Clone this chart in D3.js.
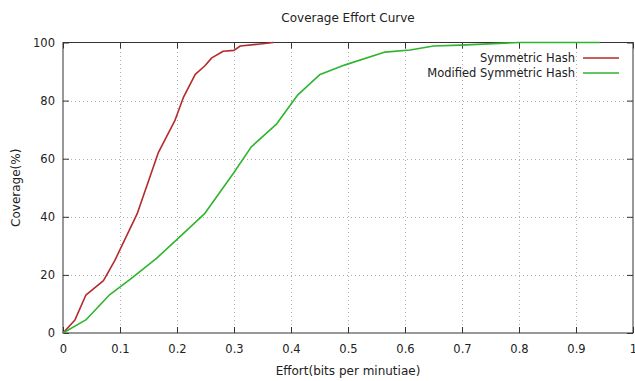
<!DOCTYPE html>
<html>
<head>
<meta charset="utf-8">
<script src="https://cdn.jsdelivr.net/npm/d3@7"></script>
<style>
  body { margin: 0; background: #fff; }
  text { font-family: "DejaVu Sans", sans-serif; font-size: 11.5px; fill: #222; }
</style>
</head>
<body>
<script>
// data
var seriesNames = ["Symmetric Hash", "Modified Symmetric Hash"];
var symEffort = [0, 0.021, 0.040, 0.071, 0.091, 0.130, 0.167, 0.196, 0.211, 0.232, 0.249, 0.261, 0.281, 0.300, 0.311, 0.346, 0.369];
var symCoverage = [0, 4.5, 13, 18, 25, 41, 62, 73, 81, 89, 92, 94.7, 97, 97.3, 98.8, 99.5, 100];
var modEffort = [0, 0.040, 0.081, 0.120, 0.164, 0.202, 0.249, 0.299, 0.330, 0.375, 0.412, 0.451, 0.495, 0.565, 0.609, 0.650, 0.697, 0.800, 0.942];
var modCoverage = [0, 4.5, 13, 18.8, 25.7, 32.6, 41.2, 55, 64, 72, 82, 89, 92.3, 96.7, 97.4, 98.8, 99.1, 100, 100];
var xTicks = [0, 0.1, 0.2, 0.3, 0.4, 0.5, 0.6, 0.7, 0.8, 0.9, 1];
var yTicks = [0, 20, 40, 60, 80, 100];
var colors = ["#b52a2a", "#2eb52e"];

var W = 635, H = 381;
var margin = { top: 42.5, right: 2, bottom: 48, left: 63 };

var svg = d3.select("body").append("svg")
    .attr("width", W)
    .attr("height", H);

var x = d3.scaleLinear().domain([0, 1]).range([margin.left, W - margin.right]);
var y = d3.scaleLinear().domain([0, 100]).range([H - margin.bottom, margin.top]);

// grid
svg.append("g").selectAll("line.gx")
    .data(xTicks.slice(1, -1))
    .enter().append("line")
    .attr("x1", function (d) { return Math.round(x(d)) + 0.5; })
    .attr("x2", function (d) { return Math.round(x(d)) + 0.5; })
    .attr("y1", y(0)).attr("y2", y(100))
    .attr("stroke", "#b0b0b0").attr("stroke-dasharray", "1,3");
svg.append("g").selectAll("line.gy")
    .data(yTicks.slice(1, -1))
    .enter().append("line")
    .attr("y1", function (d) { return Math.round(y(d)) + 0.5; })
    .attr("y2", function (d) { return Math.round(y(d)) + 0.5; })
    .attr("x1", x(0)).attr("x2", x(1))
    .attr("stroke", "#b0b0b0").attr("stroke-dasharray", "1,3");

// axes with inward ticks, mirrored
var tk = 6;
svg.append("g").attr("transform", "translate(0," + y(0) + ")")
    .call(d3.axisBottom(x).tickValues(xTicks).tickSizeInner(-tk).tickSizeOuter(0).tickPadding(12)
        .tickFormat(function (d) { return d === 0 ? "0" : d === 1 ? "1" : d3.format(".1f")(d); }));
svg.append("g").attr("transform", "translate(0," + y(100) + ")")
    .call(d3.axisTop(x).tickValues(xTicks).tickSizeInner(-tk).tickSizeOuter(0).tickFormat(""));
svg.append("g").attr("transform", "translate(" + x(0) + ",0)")
    .call(d3.axisLeft(y).tickValues(yTicks).tickSizeInner(-tk).tickSizeOuter(0).tickPadding(8));
svg.append("g").attr("transform", "translate(" + x(1) + ",0)")
    .call(d3.axisRight(y).tickValues(yTicks).tickSizeInner(-tk).tickSizeOuter(0).tickFormat(""));

svg.selectAll(".domain").remove();
svg.selectAll(".tick line").attr("stroke", "#333");
svg.selectAll(".tick text").style("font-size", "11.5px").attr("fill", "#222");

// frame
svg.append("rect")
    .attr("x", x(0)).attr("y", y(100))
    .attr("width", x(1) - x(0)).attr("height", y(0) - y(100))
    .attr("fill", "none").attr("stroke", "#333").attr("stroke-width", 1);

// curves
var line = d3.line()
    .x(function (d) { return x(d[0]); })
    .y(function (d) { return y(d[1]); });

var series = [
    d3.zip(symEffort, symCoverage),
    d3.zip(modEffort, modCoverage)
];

svg.selectAll("path.curve")
    .data(series)
    .enter().append("path")
    .attr("class", "curve")
    .attr("d", line)
    .attr("fill", "none")
    .attr("stroke", function (d, i) { return colors[i]; })
    .attr("stroke-width", 1.6)
    .attr("stroke-linejoin", "round");

// legend
var leg = svg.append("g");
seriesNames.forEach(function (name, i) {
    var ly = 58 + i * 15;
    leg.append("text")
        .attr("x", 575).attr("y", ly + 4)
        .attr("text-anchor", "end")
        .text(name);
    leg.append("line")
        .attr("x1", 583).attr("x2", 619)
        .attr("y1", ly).attr("y2", ly)
        .attr("stroke", colors[i]).attr("stroke-width", 1.6);
});

// titles
svg.append("text")
    .attr("x", (x(0) + x(1)) / 2).attr("y", 22)
    .attr("text-anchor", "middle")
    .style("font-size", "12px")
    .text("Coverage Effort Curve");
svg.append("text")
    .attr("x", (x(0) + x(1)) / 2).attr("y", 375)
    .attr("text-anchor", "middle")
    .style("font-size", "12px")
    .text("Effort(bits per minutiae)");
svg.append("text")
    .attr("transform", "translate(20," + ((y(0) + y(100)) / 2) + ") rotate(-90)")
    .attr("text-anchor", "middle")
    .style("font-size", "12px")
    .text("Coverage(%)");
</script>
</body>
</html>
